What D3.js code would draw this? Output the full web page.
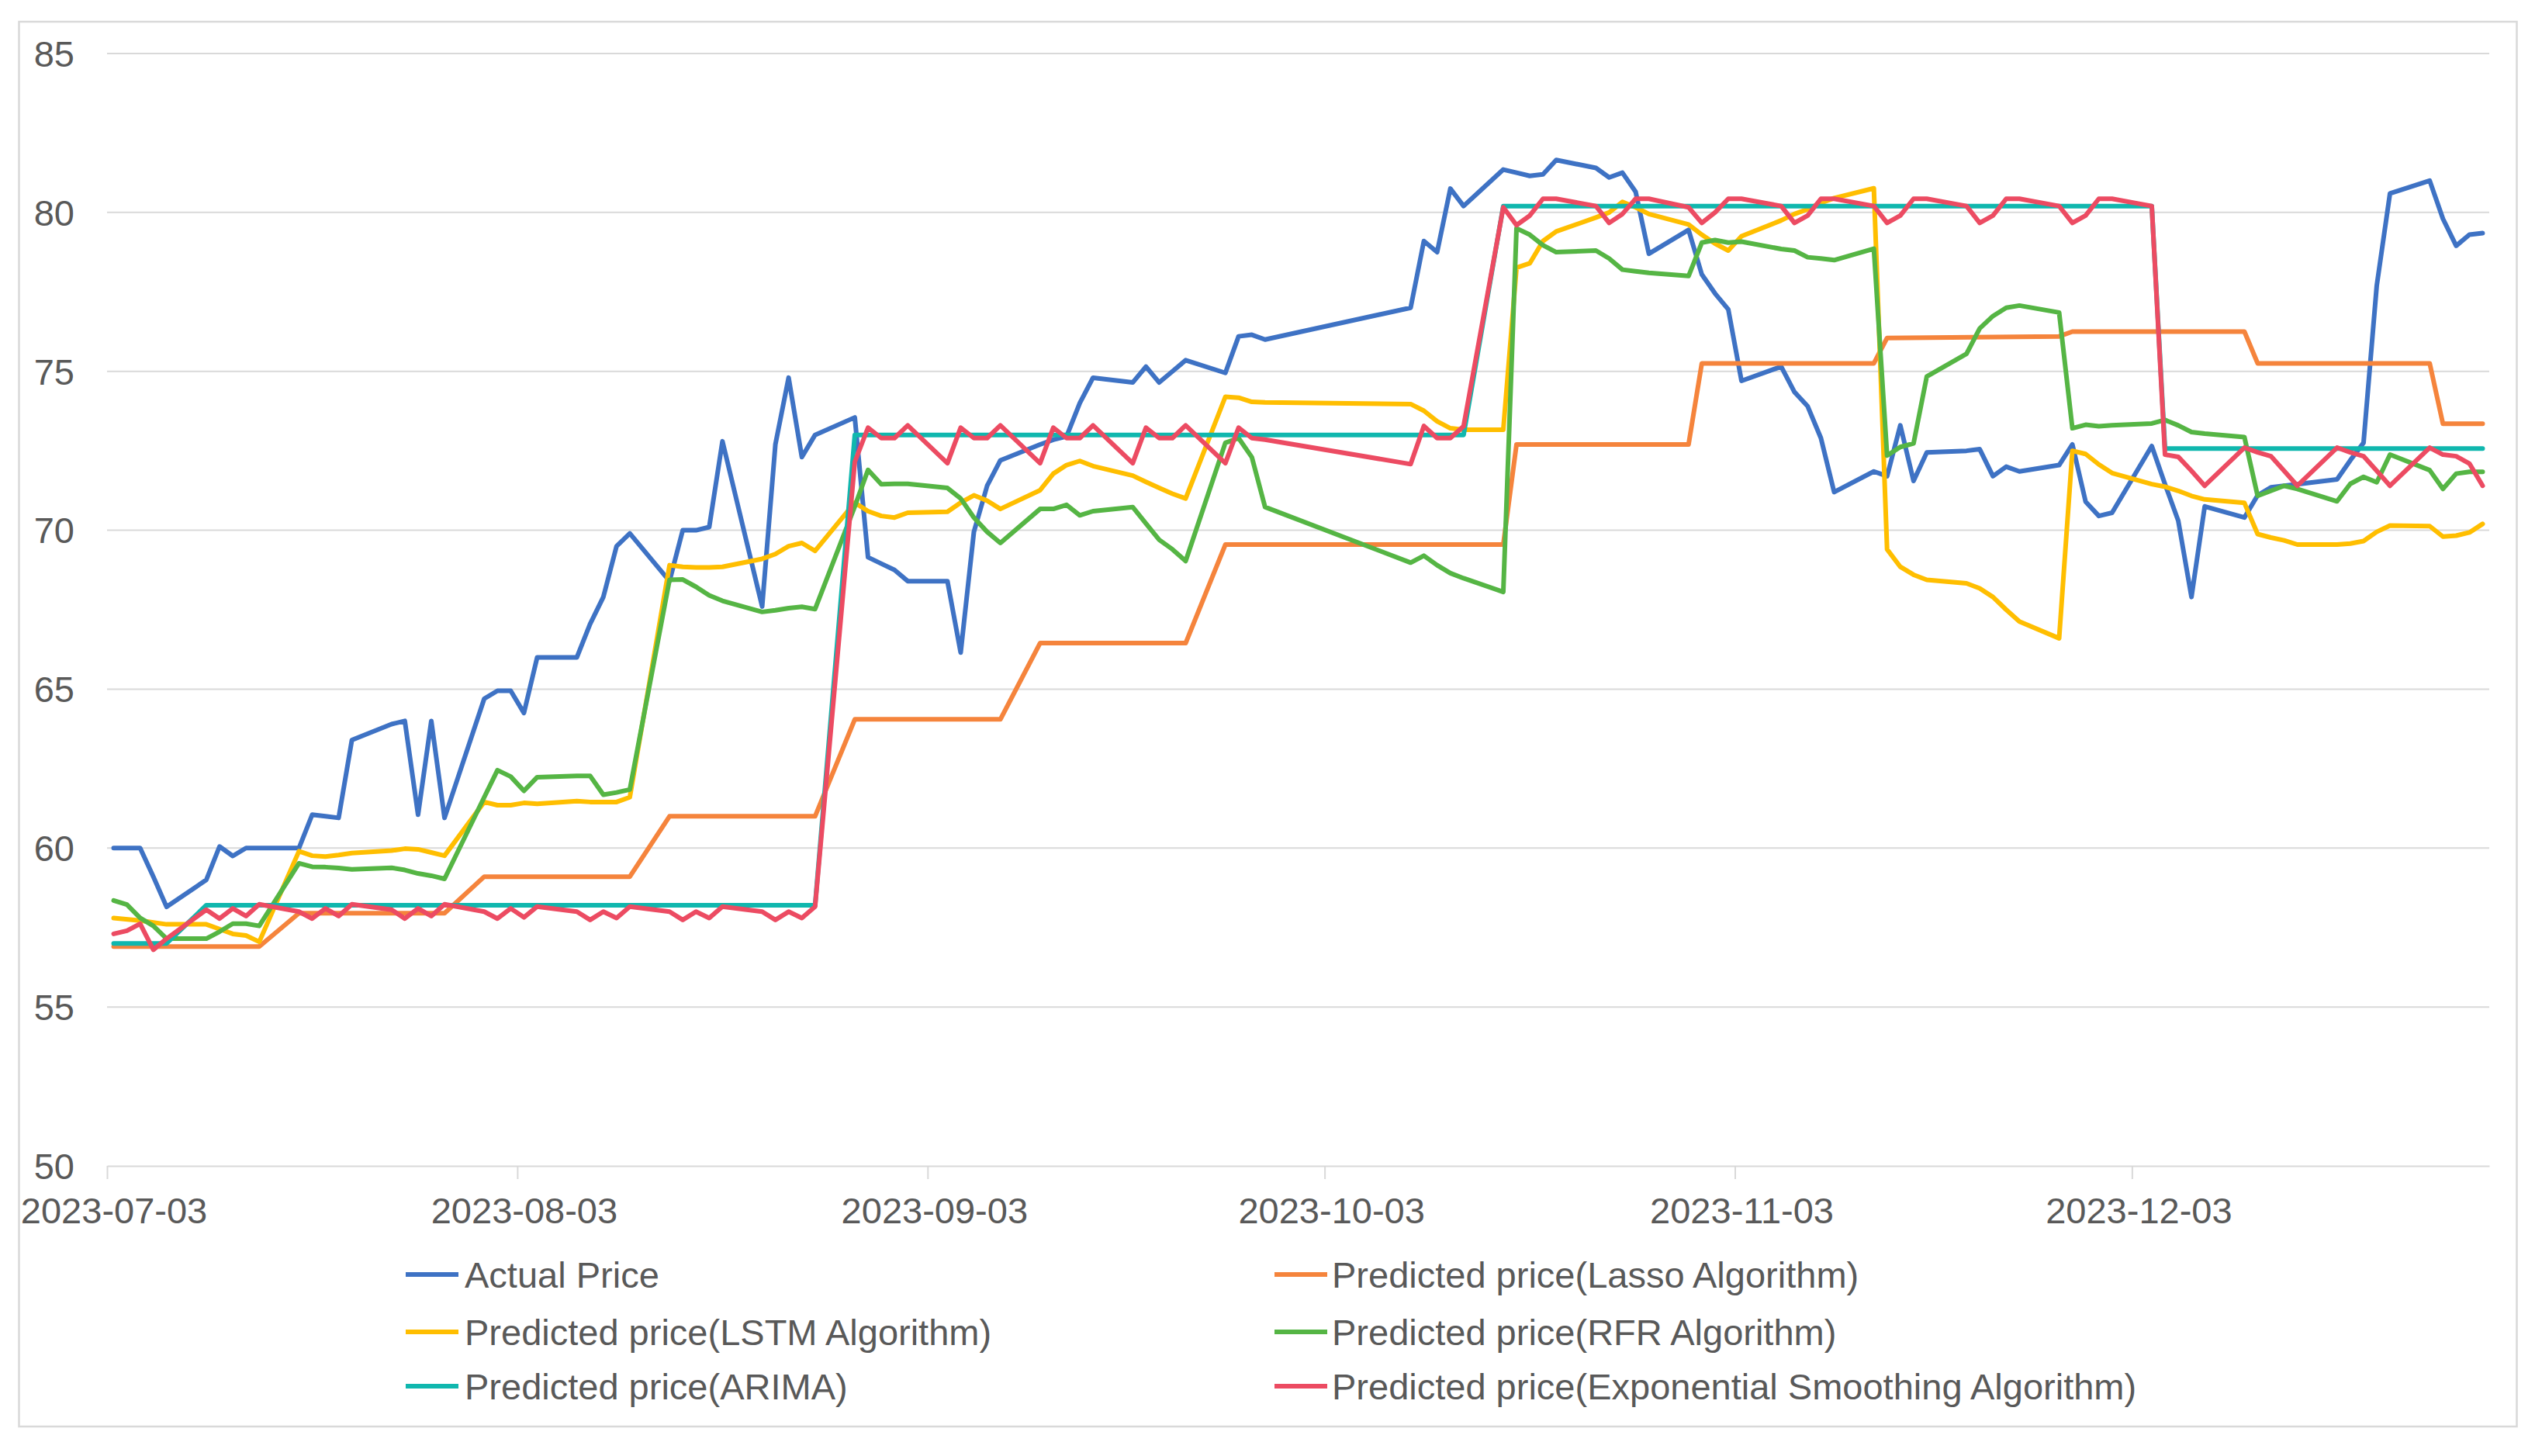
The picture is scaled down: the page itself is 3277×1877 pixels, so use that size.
<!DOCTYPE html>
<html>
<head>
<meta charset="utf-8">
<script src="https://cdn.jsdelivr.net/npm/d3@7"></script>
<style>
  html, body { margin: 0; padding: 0; background: #ffffff; }
  svg { display: block; }
  text { font-family: "Liberation Sans", Arial, sans-serif; fill: #595959; }
</style>
</head>
<body>
<svg id="chart" width="3277" height="1877"></svg>
<script>
// ---------------- DATA ----------------
const tickLabels = ["2023-07-03", "2023-08-03", "2023-09-03", "2023-10-03", "2023-11-03", "2023-12-03"];
const yTicks = [50, 55, 60, 65, 70, 75, 80, 85];
const seriesNames = [
  "Actual Price",
  "Predicted price(Lasso Algorithm)",
  "Predicted price(LSTM Algorithm)",
  "Predicted price(RFR Algorithm)",
  "Predicted price(ARIMA)",
  "Predicted price(Exponential Smoothing Algorithm)"
];

const actualPrice = [
  ["07-03",60.0],["07-04",60.0],["07-05",60.0],["07-06",59.1],["07-07",58.15],
  ["07-10",59.0],["07-11",60.05],["07-12",59.75],["07-13",60.0],["07-14",60.0],
  ["07-17",60.0],["07-18",61.05],["07-19",61.0],["07-20",60.95],["07-21",63.4],
  ["07-24",63.9],["07-25",64.0],["07-26",61.05],["07-27",64.0],["07-28",60.95],
  ["07-31",64.7],["08-01",64.95],["08-02",64.95],["08-03",64.25],["08-04",66.0],
  ["08-07",66.0],["08-08",67.05],["08-09",67.9],["08-10",69.5],["08-11",69.9],
  ["08-14",68.4],["08-15",70.0],["08-16",70.0],["08-17",70.1],["08-18",72.8],
  ["08-21",67.6],["08-22",72.7],["08-23",74.8],["08-24",72.3],["08-25",73.0],
  ["08-28",73.55],["08-29",69.15],["08-30",68.95],["08-31",68.75],["09-01",68.4],
  ["09-04",68.4],["09-05",66.15],["09-06",69.95],["09-07",71.4],["09-08",72.2],
  ["09-11",72.7],["09-12",72.85],["09-13",72.95],["09-14",74.0],["09-15",74.8],
  ["09-18",74.65],["09-19",75.15],["09-20",74.65],["09-21",75.0],["09-22",75.35],
  ["09-25",74.95],["09-26",76.1],["09-27",76.15],["09-28",76.0],
  ["10-09",77.0],["10-10",79.1],["10-11",78.75],["10-12",80.75],["10-13",80.2],
  ["10-16",81.35],["10-17",81.25],["10-18",81.15],["10-19",81.2],["10-20",81.65],
  ["10-23",81.4],["10-24",81.1],["10-25",81.25],["10-26",80.65],["10-27",78.7],
  ["10-30",79.45],["10-31",78.05],["11-01",77.45],["11-02",76.95],["11-03",74.7],
  ["11-06",75.15],["11-07",74.35],["11-08",73.9],["11-09",72.9],["11-10",71.2],
  ["11-13",71.85],["11-14",71.7],["11-15",73.3],["11-16",71.55],["11-17",72.45],
  ["11-20",72.5],["11-21",72.55],["11-22",71.7],["11-23",72.0],["11-24",71.85],
  ["11-27",72.05],["11-28",72.7],["11-29",70.9],["11-30",70.45],["12-01",70.55],
  ["12-04",72.65],["12-05",71.45],["12-06",70.3],["12-07",67.9],["12-08",70.75],
  ["12-11",70.4],["12-12",71.1],["12-13",71.35],["12-14",71.4],["12-15",71.45],
  ["12-18",71.6],["12-19",72.2],["12-20",72.75],["12-21",77.7],["12-22",80.6],
  ["12-25",81.0],["12-26",79.8],["12-27",78.95],["12-28",79.3],["12-29",79.35]
];

const lassoPred = [
  ["07-03",56.9],["07-14",56.9],["07-17",57.95],["07-28",57.95],["07-31",59.1],
  ["08-11",59.1],["08-14",61.0],["08-25",61.0],["08-28",64.05],["09-08",64.05],
  ["09-11",66.45],["09-22",66.45],["09-25",69.55],["10-16",69.55],["10-17",72.7],
  ["10-30",72.7],["10-31",75.25],["11-13",75.25],["11-14",76.05],["11-27",76.1],
  ["11-28",76.25],["12-11",76.25],["12-12",75.25],["12-25",75.25],["12-26",73.35],
  ["12-29",73.35]
];

const lstmPred = [
  ["07-03",57.8],["07-05",57.72],["07-07",57.6],["07-10",57.6],["07-11",57.45],
  ["07-12",57.3],["07-13",57.25],["07-14",57.05],["07-17",59.9],["07-18",59.76],
  ["07-19",59.73],["07-20",59.78],["07-21",59.84],["07-24",59.92],["07-25",59.98],
  ["07-26",59.96],["07-27",59.86],["07-28",59.76],["07-31",61.45],["08-01",61.35],
  ["08-02",61.35],["08-03",61.42],["08-04",61.39],["08-07",61.48],["08-08",61.45],
  ["08-09",61.45],["08-10",61.45],["08-11",61.6],["08-14",68.9],["08-15",68.85],
  ["08-16",68.83],["08-17",68.83],["08-18",68.85],["08-21",69.1],["08-22",69.25],
  ["08-23",69.5],["08-24",69.6],["08-25",69.35],["08-28",70.87],["08-29",70.6],
  ["08-30",70.45],["08-31",70.4],["09-01",70.55],["09-04",70.58],["09-05",70.87],
  ["09-06",71.1],["09-07",70.93],["09-08",70.67],["09-11",71.26],["09-12",71.78],
  ["09-13",72.05],["09-14",72.18],["09-15",72.02],["09-18",71.72],["09-19",71.52],
  ["09-20",71.33],["09-21",71.15],["09-22",71.0],["09-25",74.2],["09-26",74.17],
  ["09-27",74.04],["09-28",74.02],["10-09",73.97],["10-10",73.76],["10-11",73.43],
  ["10-12",73.21],["10-13",73.16],["10-16",73.16],["10-17",78.26],["10-18",78.4],
  ["10-19",79.1],["10-20",79.4],["10-23",79.84],["10-24",80.0],["10-25",80.33],
  ["10-26",80.16],["10-27",79.95],["10-30",79.62],["10-31",79.3],["11-01",79.02],
  ["11-02",78.8],["11-03",79.25],["11-06",79.75],["11-07",79.95],["11-08",80.1],
  ["11-09",80.3],["11-10",80.45],["11-13",80.76],["11-14",69.4],["11-15",68.85],
  ["11-16",68.6],["11-17",68.44],["11-20",68.33],["11-21",68.17],["11-22",67.9],
  ["11-23",67.5],["11-24",67.13],["11-27",66.6],["11-28",72.5],["11-29",72.4],
  ["11-30",72.07],["12-01",71.8],["12-04",71.45],["12-05",71.37],["12-06",71.24],
  ["12-07",71.08],["12-08",70.97],["12-11",70.86],["12-12",69.88],["12-13",69.77],
  ["12-14",69.68],["12-15",69.55],["12-18",69.55],["12-19",69.58],["12-20",69.66],
  ["12-21",69.95],["12-22",70.15],["12-25",70.13],["12-26",69.8],["12-27",69.83],
  ["12-28",69.93],["12-29",70.2]
];

const rfrPred = [
  ["07-03",58.35],["07-04",58.22],["07-05",57.8],["07-06",57.55],["07-07",57.15],
  ["07-10",57.15],["07-11",57.37],["07-12",57.62],["07-13",57.62],["07-14",57.55],
  ["07-17",59.52],["07-18",59.41],["07-19",59.4],["07-20",59.37],["07-21",59.33],
  ["07-24",59.38],["07-25",59.31],["07-26",59.2],["07-27",59.13],["07-28",59.03],
  ["07-31",61.6],["08-01",62.45],["08-02",62.25],["08-03",61.8],["08-04",62.23],
  ["08-07",62.27],["08-08",62.27],["08-09",61.68],["08-10",61.75],["08-11",61.84],
  ["08-14",68.44],["08-15",68.45],["08-16",68.22],["08-17",67.95],["08-18",67.78],
  ["08-21",67.43],["08-22",67.48],["08-23",67.55],["08-24",67.59],["08-25",67.52],
  ["08-28",70.75],["08-29",71.9],["08-30",71.45],["08-31",71.46],["09-01",71.46],
  ["09-04",71.33],["09-05",71.0],["09-06",70.4],["09-07",69.95],["09-08",69.6],
  ["09-11",70.67],["09-12",70.67],["09-13",70.8],["09-14",70.47],["09-15",70.6],
  ["09-18",70.73],["09-19",70.21],["09-20",69.7],["09-21",69.4],["09-22",69.03],
  ["09-25",72.75],["09-26",72.9],["09-27",72.3],["09-28",70.73],["10-09",68.98],
  ["10-10",69.2],["10-11",68.9],["10-12",68.65],["10-13",68.49],["10-16",68.06],
  ["10-17",79.5],["10-18",79.3],["10-19",78.97],["10-20",78.75],["10-23",78.8],
  ["10-24",78.55],["10-25",78.2],["10-26",78.15],["10-27",78.1],["10-30",78.0],
  ["10-31",79.05],["11-01",79.13],["11-02",79.05],["11-03",79.08],["11-06",78.85],
  ["11-07",78.8],["11-08",78.59],["11-09",78.55],["11-10",78.5],["11-13",78.86],
  ["11-14",72.35],["11-15",72.62],["11-16",72.73],["11-17",74.84],["11-20",75.55],
  ["11-21",76.35],["11-22",76.74],["11-23",77.0],["11-24",77.07],["11-27",76.85],
  ["11-28",73.21],["11-29",73.32],["11-30",73.27],["12-01",73.3],["12-04",73.36],
  ["12-05",73.47],["12-06",73.3],["12-07",73.09],["12-08",73.04],["12-11",72.93],
  ["12-12",71.08],["12-13",71.24],["12-14",71.4],["12-15",71.3],["12-18",70.91],
  ["12-19",71.46],["12-20",71.68],["12-21",71.51],["12-22",72.38],["12-25",71.89],
  ["12-26",71.3],["12-27",71.78],["12-28",71.84],["12-29",71.84]
];

const arimaPred = [
  ["07-03",57.0],["07-07",57.0],["07-10",58.2],["08-25",58.2],["08-28",73.0],
  ["10-13",73.0],["10-16",80.2],["12-04",80.2],["12-05",72.57],["12-29",72.57]
];

const expSmoothPred = [
  ["07-03",57.3],["07-04",57.4],["07-05",57.62],["07-06",56.8],["07-07",57.15],
  ["07-10",58.06],["07-11",57.78],["07-12",58.1],["07-13",57.86],["07-14",58.23],
  ["07-17",58.0],["07-18",57.78],["07-19",58.1],["07-20",57.86],["07-21",58.23],
  ["07-24",58.06],["07-25",57.78],["07-26",58.1],["07-27",57.86],["07-28",58.23],
  ["07-31",58.0],["08-01",57.78],["08-02",58.1],["08-03",57.82],["08-04",58.16],
  ["08-07",58.0],["08-08",57.74],["08-09",58.0],["08-10",57.8],["08-11",58.16],
  ["08-14",58.0],["08-15",57.74],["08-16",58.0],["08-17",57.8],["08-18",58.16],
  ["08-21",58.0],["08-22",57.74],["08-23",58.0],["08-24",57.8],["08-25",58.16],
  ["08-28",72.15],["08-29",73.23],["08-30",72.9],["08-31",72.9],["09-01",73.3],
  ["09-04",72.11],["09-05",73.23],["09-06",72.9],["09-07",72.9],["09-08",73.3],
  ["09-11",72.11],["09-12",73.23],["09-13",72.9],["09-14",72.9],["09-15",73.3],
  ["09-18",72.11],["09-19",73.23],["09-20",72.9],["09-21",72.9],["09-22",73.3],
  ["09-25",72.11],["09-26",73.23],["09-27",72.9],["09-28",72.85],
  ["10-09",72.08],["10-10",73.28],["10-11",72.9],["10-12",72.9],["10-13",73.27],
  ["10-16",80.16],["10-17",79.6],["10-18",79.9],["10-19",80.43],["10-20",80.43],
  ["10-23",80.2],["10-24",79.67],["10-25",79.95],["10-26",80.43],["10-27",80.43],
  ["10-30",80.16],["10-31",79.67],["11-01",80.0],["11-02",80.43],["11-03",80.43],
  ["11-06",80.2],["11-07",79.67],["11-08",79.9],["11-09",80.43],["11-10",80.43],
  ["11-13",80.2],["11-14",79.67],["11-15",79.9],["11-16",80.43],["11-17",80.43],
  ["11-20",80.2],["11-21",79.67],["11-22",79.9],["11-23",80.43],["11-24",80.43],
  ["11-27",80.2],["11-28",79.67],["11-29",79.9],["11-30",80.43],["12-01",80.43],
  ["12-04",80.2],["12-05",72.38],["12-06",72.31],["12-07",71.87],["12-08",71.4],
  ["12-11",72.6],["12-12",72.45],["12-13",72.33],["12-14",71.87],["12-15",71.4],
  ["12-18",72.6],["12-19",72.45],["12-20",72.33],["12-21",71.87],["12-22",71.4],
  ["12-25",72.6],["12-26",72.38],["12-27",72.33],["12-28",72.1],["12-29",71.4]
];

const seriesColors = ["#3E72C4", "#F5843C", "#FFBE00", "#55B544", "#10B7AE", "#EC4B62"];

// ---------------- CHART ----------------
const svg = d3.select("#chart");
const parseDay = s => new Date("2023-" + s + "T12:00:00Z");   // point at middle of the day
const parseTick = s => new Date(s + "T00:00:00Z");
const FONT = "47px";

const x = d3.scaleUtc()
  .domain([new Date("2023-07-03T00:00:00Z"), new Date("2023-12-30T00:00:00Z")])
  .range([138, 3209]);
const y = d3.scaleLinear().domain([50, 85]).range([1503, 69]);

// outer border
svg.append("rect")
  .attr("x", 24.5).attr("y", 28).attr("width", 3220).attr("height", 1811)
  .attr("fill", "#ffffff").attr("stroke", "#d9d9d9").attr("stroke-width", 2.5);

// horizontal gridlines
svg.append("g").selectAll("line")
  .data(yTicks.filter(v => v !== 50))
  .join("line")
  .attr("x1", x.range()[0]).attr("x2", x.range()[1])
  .attr("y1", d => y(d)).attr("y2", d => y(d))
  .attr("stroke", "#d9d9d9").attr("stroke-width", 2);

// y labels
svg.append("g").selectAll("text")
  .data(yTicks)
  .join("text")
  .attr("x", 96).attr("y", d => y(d)).attr("dy", "0.36em")
  .attr("text-anchor", "end")
  .style("font-size", FONT)
  .text(d => d);

// x axis
const tickDates = tickLabels.map(parseTick);
const halfDay = x(new Date("2023-07-03T12:00:00Z")) - x(new Date("2023-07-03T00:00:00Z"));
const xAxis = d3.axisBottom(x)
  .tickValues(tickDates)
  .tickSize(17)
  .tickSizeOuter(0)
  .tickFormat((d, i) => tickLabels[i]);
const gx = svg.append("g").attr("transform", "translate(0,1503)").call(xAxis);
gx.select(".domain").attr("stroke", "#d9d9d9").attr("stroke-width", 2);
gx.selectAll(".tick line").attr("stroke", "#d9d9d9").attr("stroke-width", 2);
gx.selectAll(".tick text")
  .attr("x", halfDay).attr("y", 74).attr("dy", null)
  .style("font-size", FONT)
  .style("font-family", "'Liberation Sans', Arial, sans-serif")
  .attr("fill", "#595959");

// lines
const allSeries = [actualPrice, lassoPred, lstmPred, rfrPred, arimaPred, expSmoothPred];
const line = d3.line()
  .x(d => x(parseDay(d[0])))
  .y(d => y(d[1]));
const gl = svg.append("g");
allSeries.forEach((s, i) => {
  gl.append("path")
    .datum(s)
    .attr("d", line)
    .attr("fill", "none")
    .attr("stroke", seriesColors[i])
    .attr("stroke-width", 6)
    .attr("stroke-linejoin", "round")
    .attr("stroke-linecap", "round");
});

// legend (2 columns, 3 rows)
const legendCols = [{ lx: 523, tx: 599 }, { lx: 1643, tx: 1717 }];
const legendRows = [1643, 1717, 1787];
const gLeg = svg.append("g");
seriesNames.forEach((name, i) => {
  const c = legendCols[i % 2];
  const r = legendRows[Math.floor(i / 2)];
  gLeg.append("line")
    .attr("x1", c.lx).attr("x2", c.lx + 68)
    .attr("y1", r).attr("y2", r)
    .attr("stroke", seriesColors[i]).attr("stroke-width", 6);
  gLeg.append("text")
    .attr("x", c.tx).attr("y", r).attr("dy", "0.36em")
    .style("font-size", FONT)
    .text(name);
});
</script>
</body>
</html>
